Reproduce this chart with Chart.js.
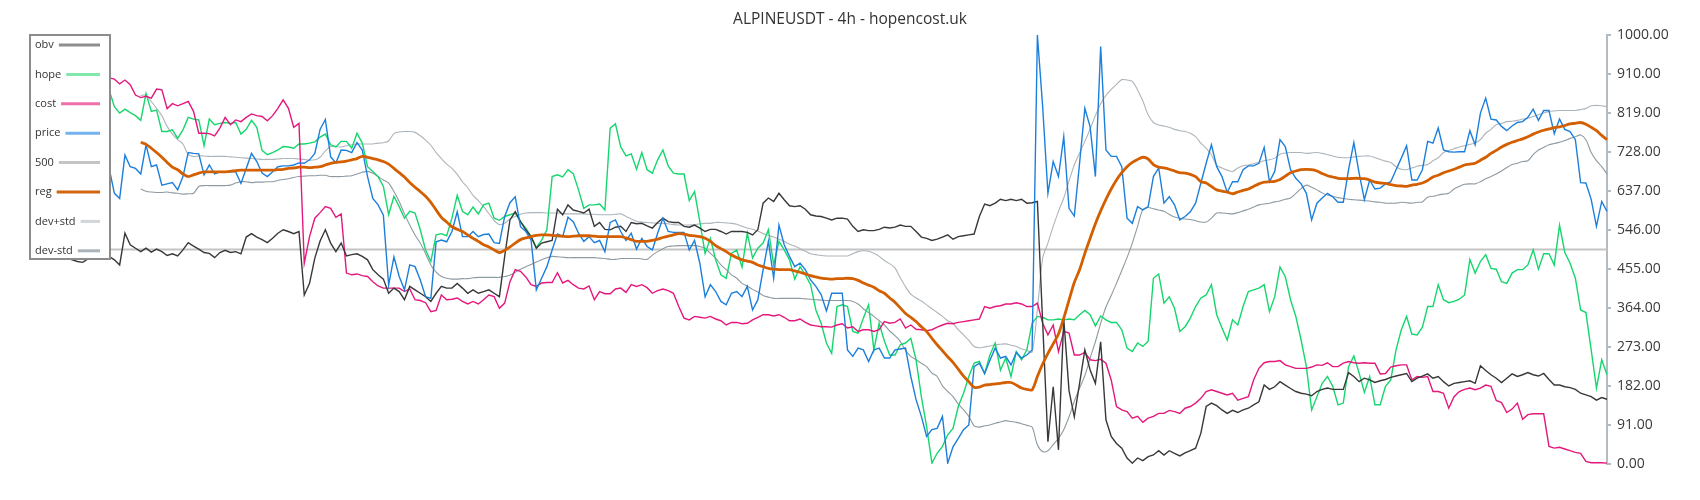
<!DOCTYPE html>
<html><head><meta charset="utf-8">
<script src="https://cdn.jsdelivr.net/npm/chart.js@4.4.1/dist/chart.umd.min.js"></script>
<style>html,body{margin:0;padding:0;background:#fff;}#wrap{width:1700px;height:500px;}</style>
</head><body><div id="wrap"><canvas id="c" width="1700" height="500"></canvas></div>
<script>
const price = [771,760,748,736,728,715,722,705,712,698,706,694,700,688,695,690,
631,619,720,693,689,676,744,693,697,650,
653,656,639,670,726,724,723,674,697,676,
681,681,681,681,654,689,724,705,678,670,
681,693,695,695,697,702,701,709,724,780,
803,716,702,732,731,726,749,732,670,619,
604,580,417,483,437,406,464,460,429,390,
386,518,522,518,542,588,530,530,542,530,
535,536,516,514,577,609,623,553,542,522,
406,433,460,499,536,530,575,565,538,519,
530,516,521,495,563,569,542,521,538,501,
526,507,499,538,573,542,540,540,540,499,
521,468,390,418,402,379,371,398,402,390,
414,359,383,453,519,433,557,511,484,460,
468,453,429,414,395,357,398,398,398,266,
251,270,266,239,266,270,247,247,266,268,
270,204,150,111,64,80,83,111,2,40,
60,80,91,227,235,211,242,270,247,251,
231,260,247,254,266,1000,833,631,705,670,
763,596,578,701,829,786,670,973,732,717,
717,693,573,561,600,592,600,670,690,608,
623,604,569,577,588,608,655,701,744,693,
670,633,658,658,686,695,695,701,738,658,
682,756,740,686,666,653,631,569,608,620,
631,623,610,610,686,749,678,616,662,641,
643,653,658,686,713,742,662,662,686,752,
748,783,732,728,727,728,728,777,744,818,
853,804,802,787,777,788,796,798,808,827,
801,824,824,770,804,780,775,756,656,655,
617,554,612,589];

const hope = [860,872,866,880,868,858,850,846,852,840,845,836,842,830,845,872,
833,818,827,819,812,801,864,822,825,775,
775,779,759,779,808,804,802,742,804,791,
794,796,794,796,769,780,801,785,731,721,
726,732,740,739,736,746,746,748,751,762,
769,744,739,752,752,736,771,748,693,682,
670,647,581,624,600,573,589,585,546,499,
472,534,537,532,573,626,589,581,599,583,
604,608,573,568,577,581,585,565,550,530,
505,522,546,670,674,669,686,677,639,596,
604,604,606,592,783,793,739,718,723,687,
726,686,678,709,732,695,678,676,676,614,
635,565,491,526,476,441,433,491,499,459,
538,480,503,515,546,464,519,499,476,431,
460,441,418,359,328,282,258,367,371,367,
309,305,340,371,266,328,286,254,254,278,
282,293,243,157,87,2,25,41,68,83,
134,165,204,235,239,211,254,282,219,247,
204,262,243,266,328,344,342,336,336,338,
336,338,336,348,358,348,322,345,336,330,
330,313,270,262,282,274,286,433,443,375,
390,363,309,320,340,367,387,394,418,348,
317,289,336,324,367,402,406,410,418,355,
390,459,437,383,344,289,227,126,157,188,
204,181,138,142,227,252,212,167,204,138,
138,181,196,266,313,344,303,301,319,367,
367,418,383,376,379,384,394,477,445,472,
488,456,454,425,421,445,453,453,464,499,
454,490,490,464,557,493,468,433,359,353,
266,177,243,208];

const cost = [1000,985,976,968,960,952,946,940,933,928,922,918,912,908,904,900,
897,886,895,884,860,854,857,853,874,872,
828,840,835,840,845,822,771,771,770,765,
783,808,791,802,798,808,816,812,810,800,
812,829,849,829,785,794,468,530,573,586,
600,596,575,583,445,441,443,439,437,425,
415,410,410,410,410,402,408,383,381,376,
355,358,394,383,384,387,379,373,379,373,
383,394,390,363,375,425,453,449,436,418,
414,422,423,423,446,422,428,418,410,408,
415,383,402,397,397,408,410,400,418,414,
418,411,398,404,408,404,398,367,340,336,
344,342,340,344,338,334,324,330,330,327,
328,336,342,348,348,345,348,342,334,334,
338,330,324,322,320,320,319,324,327,317,
320,309,313,313,309,313,332,328,330,338,
317,324,314,313,311,313,319,324,328,327,
330,332,334,336,338,367,363,367,369,373,
373,376,373,367,367,375,328,301,324,262,
309,305,254,254,260,243,241,244,235,196,
134,126,122,107,111,97,107,111,118,118,
125,122,118,130,134,142,153,169,173,169,
165,161,165,149,153,157,196,223,236,239,
239,241,231,227,223,223,223,226,231,230,
236,227,227,235,239,236,235,236,235,235,
210,211,226,229,231,231,196,204,202,204,
169,169,165,130,157,169,174,177,173,177,
184,181,148,143,120,128,142,104,115,117,
117,117,41,37,39,35,31,27,25,6,
3,3,3,2];

const obv = [500,492,505,490,497,486,492,480,476,472,470,478,486,492,488,484,
476,464,538,511,503,495,503,494,501,495,
486,490,485,499,516,508,501,493,491,481,
493,498,493,495,490,529,537,529,523,516,
526,538,546,542,537,542,394,421,480,520,
546,515,495,515,485,488,490,484,476,453,
441,431,398,410,402,383,414,406,398,390,
379,398,414,410,410,421,410,398,406,398,
402,406,398,390,484,569,588,565,546,530,
503,515,518,521,594,581,604,592,589,585,
594,554,563,547,546,552,554,542,563,560,
561,555,550,563,573,565,563,563,554,552,
557,550,542,547,547,542,536,542,542,542,
540,534,546,608,620,612,631,616,602,600,
602,594,581,578,577,573,569,573,573,571,
554,542,546,544,544,547,552,550,552,557,
554,554,542,529,526,521,524,529,534,524,
530,532,534,536,577,606,602,608,617,614,
617,614,617,608,609,612,330,52,180,33,
338,171,110,188,266,219,188,285,103,64,
48,37,14,2,14,8,17,21,31,21,
31,25,19,26,31,37,72,134,142,136,
126,118,125,120,126,130,138,145,184,174,
180,192,184,176,169,165,163,159,169,174,
177,174,174,174,213,204,192,200,196,190,
194,197,202,205,208,211,192,200,205,210,
200,204,192,182,188,190,192,194,188,229,
218,208,200,190,200,210,204,208,213,208,
205,211,197,184,184,180,178,174,165,161,
157,149,155,151];

const regStart = 21;
const reg = [750,745,736,726,715,703,692,686,676,670,
674,678,681,681,681,681,681,682,684,685,
685,685,685,685,685,685,686,687,689,690,
692,692,691,692,693,697,701,703,704,706,
709,712,717,715,712,709,705,699,689,679,
669,656,645,635,624,610,592,575,564,553,
547,542,534,526,519,511,506,499,493,498,
506,515,523,527,530,533,534,534,533,532,
531,530,531,532,532,532,531,530,530,530,
530,530,527,523,519,519,519,521,524,528,
531,534,537,536,533,532,530,526,519,509,
502,495,487,481,476,473,470,464,460,456,
454,453,453,453,450,447,443,439,436,433,
432,431,432,432,433,432,428,422,417,412,
404,398,387,377,364,351,342,332,320,309,
293,278,264,250,237,221,205,192,179,179,
184,185,187,188,190,190,184,177,174,173,
204,233,258,280,303,340,382,423,453,491,
526,560,590,617,641,662,679,693,703,710,
715,711,698,692,690,687,683,679,678,675,
670,658,655,647,639,636,634,630,634,638,
641,647,653,657,658,659,663,671,679,683,
686,687,686,683,677,672,669,666,665,665,
666,666,665,662,657,655,654,651,649,648,
647,650,652,655,661,669,673,679,683,687,
692,697,699,701,708,715,724,731,739,745,
750,754,758,763,769,774,778,781,784,786,
789,793,794,796,792,785,777,766,756];

const devPlus = [859,860,845,829,812,787,769,756,746,721,
717,718,718,717,717,717,717,716,715,714,
713,712,711,710,710,710,711,712,712,712,
711,710,708,709,715,730,740,740,739,742,
744,746,746,746,746,748,749,753,770,774,
775,775,773,765,755,743,726,712,699,689,
675,658,644,626,614,600,584,568,558,561,
571,577,582,585,586,586,586,585,585,585,
584,583,583,583,583,582,582,581,581,581,
582,583,577,571,566,564,563,562,561,561,
560,558,557,557,557,558,560,561,561,563,
563,562,561,559,554,550,547,543,537,533,
529,524,519,512,508,502,496,490,488,486,
485,485,485,485,485,490,495,497,496,491,
484,474,467,457,434,413,396,387,380,371,
362,353,344,334,328,313,301,288,274,271,
273,275,278,279,280,277,274,268,265,261,
360,480,515,554,589,620,660,697,725,752,
781,812,840,859,873,885,896,895,892,872,
846,814,796,790,788,785,780,777,775,771,
763,748,736,721,696,690,685,682,690,695,
697,700,703,707,709,713,722,725,726,726,
726,724,725,726,724,721,718,715,714,714,
716,717,718,718,714,710,706,703,693,687,
686,690,694,696,698,707,714,726,731,735,
739,742,745,748,756,771,780,791,794,798,
799,801,804,806,810,814,818,822,823,824,
824,824,824,826,829,835,836,835,833];

const devMinus = [641,636,634,633,633,634,632,631,629,630,
631,647,649,649,649,649,649,650,655,658,
658,656,657,657,658,658,661,663,665,668,
670,671,672,672,673,673,670,670,670,671,
672,676,680,682,678,670,662,655,635,612,
583,557,534,515,490,464,447,437,433,431,
431,432,432,434,435,435,435,435,435,437,
440,447,454,460,465,471,476,481,484,483,
482,481,481,481,481,481,481,480,479,477,
477,479,479,479,479,478,477,487,495,502,
507,508,509,509,509,509,507,503,491,480,
464,453,441,433,421,415,407,401,393,389,
386,386,386,386,386,386,385,384,383,382,
381,381,381,381,381,379,373,362,353,344,
334,324,310,299,286,265,251,243,235,227,
212,204,182,169,157,140,126,111,89,86,
89,91,95,98,101,99,97,94,90,86,
45,29,31,45,60,80,110,146,177,206,
247,285,328,366,393,421,451,481,515,554,
593,598,595,592,589,582,576,573,571,570,
567,564,564,573,585,585,584,583,586,590,
594,599,604,606,608,611,613,617,620,631,
642,650,645,639,632,627,624,621,619,617,
616,615,614,613,611,610,608,608,608,610,
609,608,610,611,622,624,627,629,631,641,
647,652,653,653,658,665,670,676,683,691,
698,701,705,707,721,732,738,744,747,750,
754,759,763,767,756,726,707,693,676];

const level500 = [500, 500];
const yTicks = [0, 91, 182, 273, 364, 455, 546, 637, 728, 819, 910, 1000];
const categories = price.map((_, i) => i);
const padLead = (arr) => categories.map((_, i) => i < regStart ? null : arr[i - regStart]);

const FONT = "'Open Sans', 'Noto Sans', sans-serif";

const legendItems = [
  {label: 'obv', color: '#8e8e8e'},
  {label: 'hope', color: '#7fe9aa'},
  {label: 'cost', color: '#ef6fac'},
  {label: 'price', color: '#74b3ef'},
  {label: '500', color: '#c4c4c4'},
  {label: 'reg', color: '#d3650c'},
  {label: 'dev+std', color: '#d2d6da'},
  {label: 'dev-std', color: '#a9b3b8'}
];

const boxLegend = {
  id: 'boxLegend',
  afterDraw(chart) {
    const ctx = chart.ctx;
    ctx.save();
    ctx.fillStyle = '#ffffff';
    ctx.fillRect(30, 35, 80, 224);
    ctx.strokeStyle = '#8c8c8c';
    ctx.lineWidth = 2;
    ctx.strokeRect(30, 35, 80, 224);
    ctx.font = '11px ' + FONT;
    ctx.textBaseline = 'middle';
    ctx.textAlign = 'left';
    legendItems.forEach((it, i) => {
      const y = 45 + i * 29.4;
      ctx.fillStyle = '#333333';
      ctx.fillText(it.label, 35, y);
      const w = ctx.measureText(it.label).width;
      ctx.strokeStyle = it.color;
      ctx.lineWidth = 3;
      ctx.beginPath();
      ctx.moveTo(35 + w + 5, y);
      ctx.lineTo(100, y);
      ctx.stroke();
    });
    ctx.restore();
  }
};

const line = (label, data, color, width, order, tension) => ({
  label, data, borderColor: color, backgroundColor: color, borderWidth: width,
  pointRadius: 0, pointHoverRadius: 0, fill: false, tension: tension || 0, order, spanGaps: false
});

new Chart(document.getElementById('c'), {
  type: 'line',
  data: {
    labels: categories,
    datasets: [
      line('obv', obv, '#383838', 1.4, 2),
      line('hope', hope, '#16d66e', 1.4, 4),
      line('cost', cost, '#e3177c', 1.4, 3),
      line('price', price, '#1c7fdc', 1.4, 1),
      line('500', [{x: categories[0], y: level500[0]}, {x: categories[categories.length - 1], y: level500[1]}], '#c4c4c4', 2, 8),
      line('reg', padLead(reg), '#d35f00', 2.8, 0, 0.3),
      line('dev+std', padLead(devPlus), '#adb5bb', 1.1, 6, 0.3),
      line('dev-std', padLead(devMinus), '#8e9aa1', 1.1, 7, 0.3)
    ]
  },
  options: {
    responsive: false,
    animation: false,
    events: [],
    layout: {padding: {left: 0, right: 0, top: 0, bottom: 36}},
    plugins: {
      legend: {display: false},
      tooltip: {enabled: false},
      title: {
        display: true, text: 'ALPINEUSDT - 4h - hopencost.uk', color: '#333333',
        font: {family: FONT, size: 15.5, weight: 'normal'}, padding: {top: 10, bottom: 6.4}
      }
    },
    scales: {
      x: {display: false, offset: false},
      yLeft: {
        type: 'linear', axis: 'y', position: 'left', display: true, min: 0, max: 1000,
        afterFit: (scale) => { scale.width = 30; },
        ticks: {display: false},
        grid: {display: false, drawTicks: false},
        border: {display: false}
      },
      y: {
        position: 'right', min: 0, max: 1000,
        afterBuildTicks: (scale) => { scale.ticks = yTicks.map(v => ({value: v})); },
        afterFit: (scale) => { scale.width = 93; },
        ticks: {autoSkip: false, callback: (v) => Number(v).toFixed(2), color: '#3a3a3a',
                font: {family: FONT, size: 14}, padding: 6},
        grid: {drawOnChartArea: false, drawTicks: true, tickLength: 4, color: '#b4bcc2', lineWidth: 2},
        border: {display: true, color: '#b4bcc2', width: 2}
      }
    }
  },
  plugins: [boxLegend]
});
</script></body></html>
